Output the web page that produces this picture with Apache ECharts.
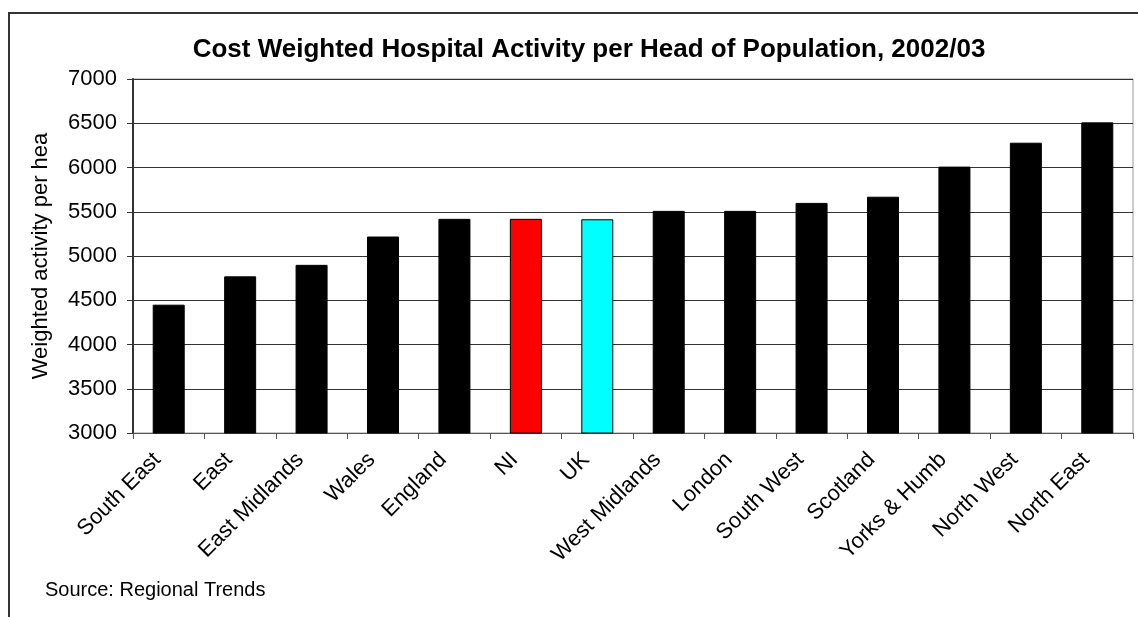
<!DOCTYPE html>
<html>
<head>
<meta charset="utf-8">
<script src="https://cdn.jsdelivr.net/npm/echarts@6/dist/echarts.min.js"></script>
<style>
html,body{margin:0;padding:0;background:#fff;}
#chart{width:1138px;height:617px;}
</style>
</head>
<body>
<div id="chart"></div>
<script>
const categories = ['South East','East','East Midlands','Wales','England','NI','UK','West Midlands','London','South West','Scotland','Yorks & Humb','North West','North East'];
const values = [4450, 4770, 4900, 5220, 5420, 5420, 5415, 5510, 5510, 5600, 5670, 6010, 6280, 6510];
const yTicks = [3000, 3500, 4000, 4500, 5000, 5500, 6000, 6500, 7000];
const titleText = 'Cost Weighted Hospital Activity per Head of Population, 2002/03';
const yAxisName = 'Weighted activity per hea';
const sourceText = 'Source: Regional Trends';

const FONT = '"Liberation Sans", Arial, Helvetica, sans-serif';
const specialFill = { 'NI': '#FF0000', 'UK': '#00FFFF' };

const chart = echarts.init(document.getElementById('chart'), null, { renderer: 'canvas' });
chart.setOption({
  backgroundColor: '#fff',
  animation: false,
  title: {
    text: titleText,
    left: 584,
    top: 30,
    textAlign: 'center',
    textStyle: { fontFamily: FONT, fontSize: 26, lineHeight: 30, fontWeight: 'bold', color: '#000' }
  },
  graphic: [
    { type: 'rect', shape: { x: 9, y: 13, width: 1160, height: 640 },
      style: { fill: 'none', stroke: '#333', lineWidth: 2 }, silent: true, z: -1 },
    { type: 'text', left: 45, top: 580,
      style: { text: sourceText, fontFamily: FONT, fontSize: 20, fill: '#000' } }
  ],
  grid: {
    left: 133, right: 5, top: 79, bottom: 184,
    show: true, borderColor: '#999', borderWidth: 1, backgroundColor: 'transparent'
  },
  xAxis: {
    type: 'category',
    data: categories,
    axisLine: { lineStyle: { color: '#555', width: 1 } },
    axisTick: { show: true, alignWithLabel: false, length: 6, lineStyle: { color: '#555' } },
    axisLabel: { rotate: 45, interval: 0, margin: 12, padding: [0, 16, 0, 0], fontFamily: FONT, fontSize: 22, color: '#000' }
  },
  yAxis: {
    type: 'value',
    min: yTicks[0], max: yTicks[yTicks.length - 1], interval: 500,
    name: yAxisName,
    nameLocation: 'middle',
    nameGap: 81,
    nameTextStyle: { fontFamily: FONT, fontSize: 22, color: '#000' },
    axisLine: { show: true, lineStyle: { color: '#333', width: 2 } },
    axisTick: { show: true, length: 6, lineStyle: { color: '#333' } },
    axisLabel: { margin: 16, fontFamily: FONT, fontSize: 22, color: '#000', formatter: v => String(v) },
    splitLine: { show: true, lineStyle: { color: '#333', width: 1 } }
  },
  series: [{
    type: 'bar',
    barWidth: 32,
    data: categories.map((c, i) => ({
      value: values[i],
      itemStyle: { color: specialFill[c] || '#000', borderColor: '#000', borderWidth: 1 }
    })),
    itemStyle: { color: '#000', borderColor: '#000', borderWidth: 1 }
  }]
});
</script>
</body>
</html>
